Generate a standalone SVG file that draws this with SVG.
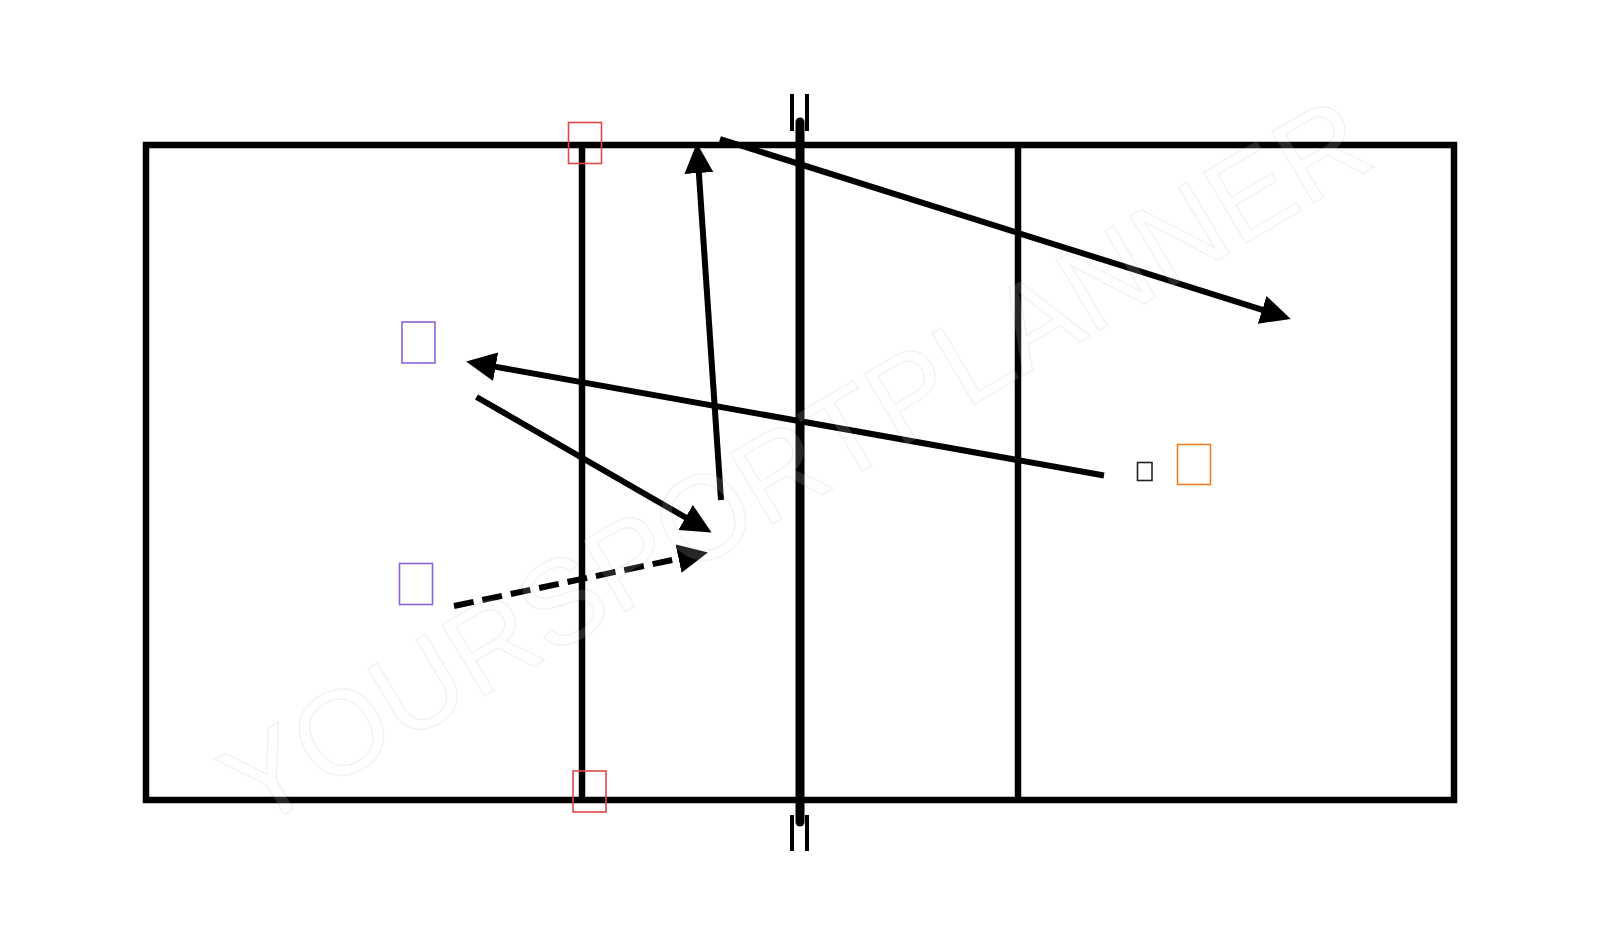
<svg xmlns="http://www.w3.org/2000/svg" width="1600" height="946" viewBox="0 0 1600 946">
  <style>
    .court { fill: none; stroke: #000; stroke-width: 6.5; }
    .net { stroke: #000; stroke-width: 9; stroke-linecap: round; }
    .post { stroke: #000; stroke-width: 4; }
    .arrow { fill: none; stroke: #000; stroke-width: 6; marker-end: url(#head); }
    .dashed { stroke-dasharray: 20 9; }
    .box { fill: none; stroke-width: 1.6; }
    .watermark { font-family: "Liberation Sans", Arial, sans-serif; font-size: 120px; fill: #ffffff; fill-opacity: 0.15; stroke: #000; stroke-opacity: 0.055; stroke-width: 1.5; }
  </style>
  <defs>
    <marker id="head" markerUnits="userSpaceOnUse" markerWidth="30" markerHeight="30" viewBox="0 0 28 27" refX="1" refY="13.5" orient="auto">
      <path d="M0,0 L28,13.5 L0,27 z" fill="#000"/>
    </marker>
  </defs>
  <rect width="1600" height="946" fill="#fff"/>

  <g id="court">
    <rect class="court" x="146" y="145" width="1308" height="655"/>
    <line class="court" x1="582" y1="145" x2="582" y2="800"/>
    <line class="court" x1="1018" y1="145" x2="1018" y2="800"/>
  </g>

  <g id="net">
    <line class="net" x1="800" y1="122" x2="800" y2="822"/>
    <line class="post" x1="792" y1="94" x2="792" y2="131"/>
    <line class="post" x1="807" y1="94" x2="807" y2="131"/>
    <line class="post" x1="792" y1="815" x2="792" y2="851"/>
    <line class="post" x1="807" y1="815" x2="807" y2="851"/>
  </g>

  <g id="connectors">
    <path class="arrow" d="M721,500 L698.8,171.9"/>
    <path class="arrow" d="M720,139 L1263.2,310.2"/>
    <path class="arrow" d="M1104,475.5 L494.6,366.6"/>
    <path class="arrow" d="M476.5,397 L686.5,518"/>
    <path class="arrow dashed" d="M454,606 L679.6,558.4"/>
  </g>

  <g id="marker-top"><rect class="box" x="568.5" y="122.5" width="33" height="41" stroke="#e04848"/></g>
  <g id="marker-bottom"><rect class="box" x="573" y="771" width="33" height="41" stroke="#e04848"/></g>
  <g id="player-purple-1"><rect class="box" x="402" y="322" width="33" height="41" stroke="#8a63d8"/></g>
  <g id="player-purple-2"><rect class="box" x="399.5" y="563.5" width="33" height="41" stroke="#8a63d8"/></g>
  <g id="ball"><rect class="box" x="1137.5" y="462.5" width="14.5" height="18" stroke="#222"/></g>
  <g id="player-orange"><rect class="box" x="1177.5" y="444.5" width="33" height="40" stroke="#f07f2a" stroke-width="2"/></g>

  <text class="watermark" x="817" y="498" text-anchor="middle" textLength="1307" lengthAdjust="spacingAndGlyphs" transform="rotate(-30.7 817 498)">YOURSPORTPLANNER</text>
</svg>
